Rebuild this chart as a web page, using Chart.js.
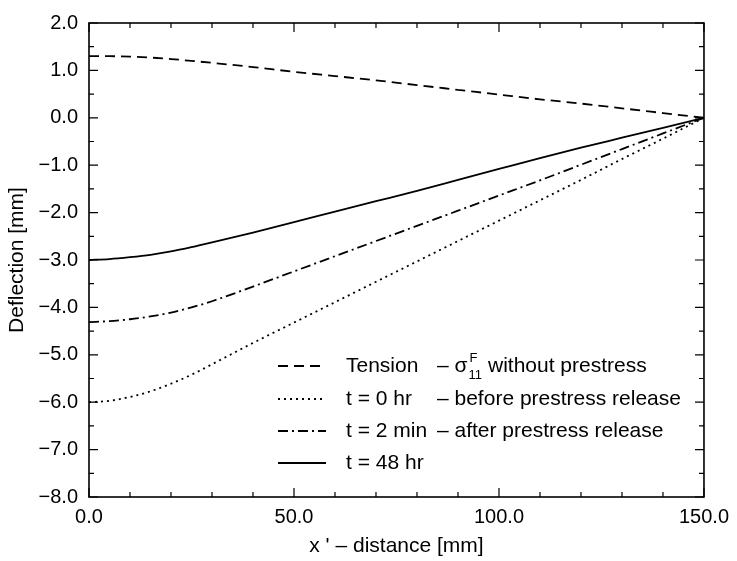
<!DOCTYPE html>
<html>
<head>
<meta charset="utf-8">
<script src="https://cdn.jsdelivr.net/npm/chart.js@4.4.1/dist/chart.umd.min.js"></script>
<style>
  html, body { margin: 0; padding: 0; background: #fff; }
  #wrap { width: 737px; height: 561px; position: relative; }
</style>
</head>
<body>
<div id="wrap"><canvas id="deflexionChart"></canvas></div>
<script>
// Datos (x' en mm, deflexión en mm)
const distancia = [0, 5, 10, 15, 20, 25, 30, 40, 50, 60, 70, 80, 90, 100, 110, 120, 130, 140, 150];
const tension   = [1.30, 1.30, 1.29, 1.27, 1.24, 1.20, 1.16, 1.07, 0.97, 0.88, 0.79, 0.69, 0.59, 0.49, 0.39, 0.30, 0.20, 0.10, 0.00];
const t0hr      = [-6.00, -5.97, -5.89, -5.77, -5.61, -5.42, -5.20, -4.75, -4.32, -3.89, -3.46, -3.03, -2.60, -2.17, -1.74, -1.31, -0.87, -0.44, 0.00];
const t2min     = [-4.31, -4.29, -4.25, -4.19, -4.11, -4.00, -3.87, -3.56, -3.24, -2.92, -2.60, -2.28, -1.96, -1.64, -1.32, -0.99, -0.66, -0.33, 0.00];
const t48hr     = [-3.00, -2.98, -2.94, -2.89, -2.82, -2.73, -2.63, -2.42, -2.20, -1.98, -1.76, -1.54, -1.31, -1.08, -0.85, -0.63, -0.42, -0.21, 0.00];

// Ejes y marcas
const xMin = 0, xMax = 150, xMajor = 50, xMinor = 10;
const yMin = -8, yMax = 2, yMajor = 1, yMinor = 0.5;

// Leyenda (columna 1, columna 2)
const leyendaCol1 = ['Tension', 't = 0 hr', 't = 2 min', 't = 48 hr'];
const leyendaCol2 = ['– σ', '– before prestress release', '– after prestress release', ''];
const estilos = [[10, 6], [2, 4], [10, 4, 2, 4], []];

const fuente = "'Liberation Sans', Arial, Helvetica, sans-serif";
Chart.defaults.font.family = fuente;
Chart.defaults.color = '#000';

function puntos(ys) {
    return distancia.map((x, i) => ({ x: x, y: ys[i] }));
}

function serie(nombre, ys, dash) {
    return {
        label: nombre,
        data: puntos(ys),
        borderColor: '#000',
        backgroundColor: '#000',
        borderWidth: 1.8,
        borderDash: dash,
        pointRadius: 0,
        cubicInterpolationMode: 'monotone',
        fill: false
    };
}

// Marco con marcas hacia adentro en los cuatro lados
const marcoPlugin = {
    id: 'marco',
    afterDatasetsDraw(chart) {
        const { ctx, chartArea: a, scales: { x, y } } = chart;
        ctx.save();
        ctx.strokeStyle = '#000';
        ctx.lineWidth = 1.6;
        ctx.setLineDash([]);
        ctx.strokeRect(a.left, a.top, a.right - a.left, a.bottom - a.top);
        ctx.lineWidth = 1.2;
        ctx.beginPath();
        const nx = Math.round((xMax - xMin) / xMinor);
        for (let i = 0; i <= nx; i++) {
            const v = xMin + i * xMinor;
            const px = x.getPixelForValue(v);
            const len = (i % Math.round(xMajor / xMinor) === 0) ? 9 : 5;
            ctx.moveTo(px, a.bottom); ctx.lineTo(px, a.bottom - len);
            ctx.moveTo(px, a.top); ctx.lineTo(px, a.top + len);
        }
        const ny = Math.round((yMax - yMin) / yMinor);
        for (let i = 0; i <= ny; i++) {
            const v = yMin + i * yMinor;
            const py = y.getPixelForValue(v);
            const len = (i % Math.round(yMajor / yMinor) === 0) ? 9 : 5;
            ctx.moveTo(a.left, py); ctx.lineTo(a.left + len, py);
            ctx.moveTo(a.right, py); ctx.lineTo(a.right - len, py);
        }
        ctx.stroke();
        ctx.restore();
    }
};

// Leyenda dibujada dentro del área del gráfico
const leyendaPlugin = {
    id: 'leyenda',
    afterDraw(chart) {
        const { ctx } = chart;
        const x0 = 278, x1 = 326, c1 = 346, c2 = 437;
        const yFila = [366, 399, 431, 463];
        ctx.save();
        ctx.fillStyle = '#000';
        ctx.strokeStyle = '#000';
        ctx.textBaseline = 'middle';
        leyendaCol1.forEach((txt, i) => {
            const yy = yFila[i];
            ctx.lineWidth = 1.8;
            ctx.setLineDash(estilos[i]);
            ctx.beginPath();
            ctx.moveTo(x0, yy); ctx.lineTo(x1, yy);
            ctx.stroke();
            ctx.setLineDash([]);
            ctx.font = '21px ' + fuente;
            ctx.fillText(txt, c1, yy);
            ctx.fillText(leyendaCol2[i], c2, yy);
            if (i === 0) {
                let xx = c2 + ctx.measureText(leyendaCol2[0]).width + 1;
                ctx.font = '13px ' + fuente;
                ctx.fillText('F', xx + 1, yy - 8);
                ctx.fillText('11', xx, yy + 9);
                xx += ctx.measureText('11').width + 6;
                ctx.font = '21px ' + fuente;
                ctx.fillText('without prestress', xx, yy);
            }
        });
        ctx.restore();
    }
};

const ctx = document.getElementById('deflexionChart').getContext('2d');
const deflexionChart = new Chart(ctx, {
    type: 'line',
    data: {
        datasets: [
            serie('Tension', tension, [10, 6]),
            serie('t = 0 hr', t0hr, [2, 4]),
            serie('t = 2 min', t2min, [10, 4, 2, 4]),
            serie('t = 48 hr', t48hr, [])
        ]
    },
    options: {
        responsive: true,
        maintainAspectRatio: false,
        animation: false,
        layout: { padding: { left: 0, right: 32, top: 12, bottom: 0 } },
        plugins: {
            legend: { display: false },
            tooltip: { enabled: false }
        },
        scales: {
            x: {
                type: 'linear',
                min: xMin,
                max: xMax,
                grid: { display: false, drawTicks: false },
                border: { display: false },
                ticks: {
                    stepSize: xMajor,
                    padding: 8,
                    font: { size: 20 },
                    maxRotation: 0,
                    callback: v => v.toFixed(1)
                },
                title: {
                    display: true,
                    text: "x ' – distance [mm]",
                    font: { size: 21 },
                    padding: { top: 2, bottom: 2 }
                },
                afterFit: s => { s.height = 64; }
            },
            y: {
                min: yMin,
                max: yMax,
                grid: { display: false, drawTicks: false },
                border: { display: false },
                ticks: {
                    stepSize: yMajor,
                    padding: 11,
                    font: { size: 20 },
                    callback: v => (v < 0 ? '−' : '') + Math.abs(v).toFixed(1)
                },
                title: {
                    display: true,
                    text: 'Deflection [mm]',
                    font: { size: 21 },
                    padding: { top: 5, bottom: 0 }
                },
                afterFit: s => { s.width = 89; }
            }
        }
    },
    plugins: [marcoPlugin, leyendaPlugin]
});
</script>
</body>
</html>
